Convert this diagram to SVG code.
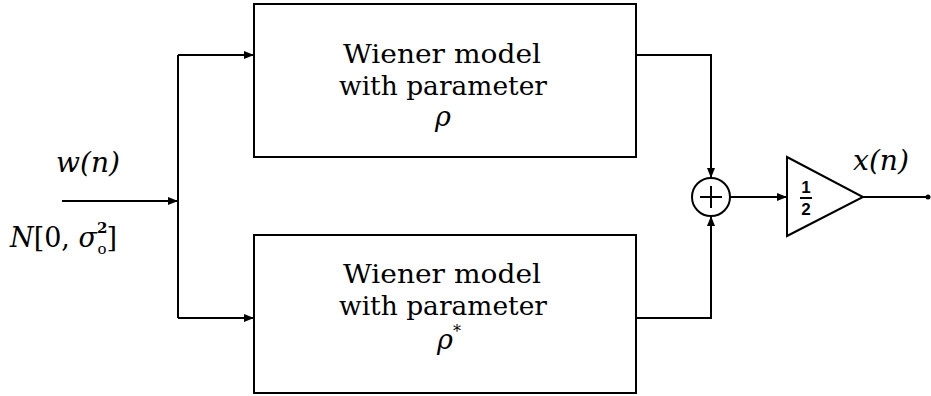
<svg xmlns="http://www.w3.org/2000/svg" width="931" height="396" viewBox="0 0 931 396">
<style>
.ln{stroke:#000;stroke-width:2;fill:none}
.box{stroke:#000;stroke-width:2;fill:#fff}
.t{font-family:'DejaVu Serif','Liberation Serif',serif;font-size:26px;fill:#000;text-anchor:middle}
.m{font-family:'DejaVu Serif','Liberation Serif',serif;font-style:italic;font-size:27px;fill:#000}
.mr{font-style:normal}
.f{font-family:'Liberation Sans','DejaVu Sans',sans-serif;font-weight:bold;font-size:17px;fill:#000;text-anchor:middle}
</style>
<defs>
<marker id="ar" viewBox="0 0 10 8" refX="10" refY="4" markerWidth="10" markerHeight="8" markerUnits="userSpaceOnUse" orient="auto">
<path d="M0,0 L10,4 L0,8 Z" fill="#000"/>
</marker>
</defs>
<g id="connectors">
<path class="ln" d="M62,201 H178" marker-end="url(#ar)"/>
<path class="ln" d="M178,55 V318"/>
<path class="ln" d="M178,55 H254" marker-end="url(#ar)"/>
<path class="ln" d="M178,318 H254" marker-end="url(#ar)"/>
<path class="ln" d="M636,55 H711 V178" marker-end="url(#ar)"/>
<path class="ln" d="M636,318 H711 V216" marker-end="url(#ar)"/>
<path class="ln" d="M730,197 H787" marker-end="url(#ar)"/>
<path class="ln" d="M863,197 H928"/>
<circle cx="928" cy="197" r="2.5" fill="#000"/>
</g>
<g id="input-label">
<text class="m" x="56" y="172" textLength="64" lengthAdjust="spacingAndGlyphs">w(n)</text>
<text x="10" y="247" class="m">N<tspan class="mr">[0, </tspan>σ<tspan class="mr" font-size="15" dy="-14" font-weight="bold">2</tspan><tspan class="mr" font-size="15" dx="-10" dy="21">o</tspan><tspan class="mr" dy="-7">]</tspan></text>
</g>
<g id="wiener-top">
<rect class="box" x="254" y="4" width="382" height="153"/>
<text class="t" x="442" y="63" textLength="198" lengthAdjust="spacingAndGlyphs">Wiener model</text>
<text class="t" x="443" y="95" textLength="208" lengthAdjust="spacingAndGlyphs">with parameter</text>
<text class="m" x="443" y="126" text-anchor="middle">ρ</text>
</g>
<g id="wiener-bottom">
<rect class="box" x="254" y="235" width="382" height="158"/>
<text class="t" x="442" y="283" textLength="198" lengthAdjust="spacingAndGlyphs">Wiener model</text>
<text class="t" x="443" y="315" textLength="208" lengthAdjust="spacingAndGlyphs">with parameter</text>
<text class="m" x="437" y="349">ρ<tspan class="mr" font-size="16" dy="-12">*</tspan></text>
</g>
<g id="sum">
<circle class="box" cx="711" cy="197" r="19"/>
<path class="ln" d="M700,197 H722 M711,186 V208"/>
</g>
<g id="gain">
<path class="box" d="M787,157 L863,197 L787,236 Z"/>
<text class="f" x="806" y="193">1</text>
<path d="M800,198 H812" stroke="#000" stroke-width="2"/>
<text class="f" x="806" y="215">2</text>
</g>
<g id="output-label">
<text class="m" x="853" y="170" textLength="56" lengthAdjust="spacingAndGlyphs">x(n)</text>
</g>
</svg>
